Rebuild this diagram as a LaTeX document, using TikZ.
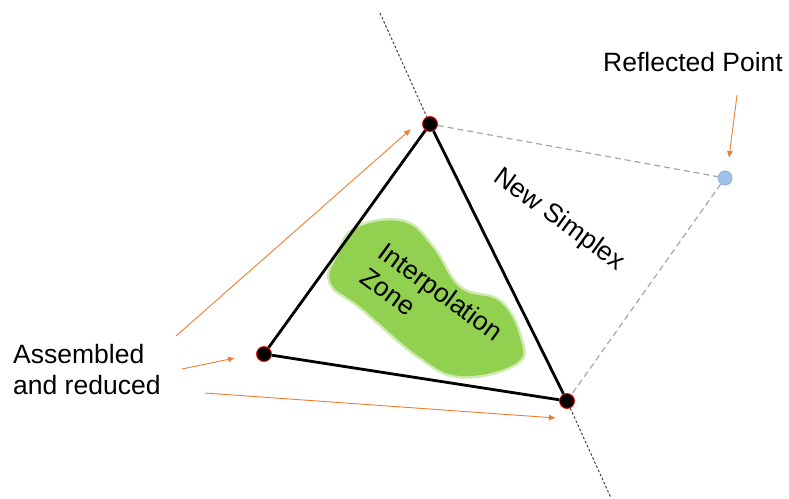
\documentclass[tikz,border=0pt]{standalone}
\usepackage{fontspec}
\setmainfont{Liberation Sans}
\usetikzlibrary{arrows.meta,positioning}
\definecolor{accentorange}{HTML}{ED7D31}
\definecolor{zonegreen}{HTML}{92D050}
\definecolor{pointblue}{HTML}{9DC3E6}
\definecolor{pointedge}{HTML}{8FAADC}
\definecolor{ridgegray}{HTML}{404040}
\definecolor{facetgray}{HTML}{A6A6A6}

\begin{document}
\begin{tikzpicture}[
        x=1pt,y=-1pt,
        vtx/.style={circle,draw=red,fill=black,line width=.8pt,
                    minimum size=15pt,inner sep=0pt},
        refl/.style={circle,draw=pointedge,fill=pointblue,line width=.8pt,
                     minimum size=14pt,inner sep=0pt},
        lbl/.style={font=\fontsize{26.5}{31}\selectfont,inner sep=0pt},
        edge/.style={line width=2.8pt,black},
        ridge/.style={ridgegray,line width=1pt,dash pattern=on 2.5pt off 2pt},
        facet/.style={facetgray,line width=1.2pt,dash pattern=on 6pt off 4pt},
        arr/.style={-{Latex[length=7pt,width=6pt]},accentorange,line width=.9pt}
      ]
        \useasboundingbox (0,0) rectangle (789,498);
        % interpolation zone
        \fill[zonegreen,draw=zonegreen,draw opacity=.45,line width=5pt]
          plot[smooth cycle,tension=.7] coordinates {(357,228) (403,222) (432,247)
            (460,288) (500,302) (520,338) (516,363) (462,376) (420,357)
            (362,308) (331,283) (338,255)};
        % simplex vertices
        \node[vtx] (top) at (430,124) {};
        \node[vtx] (left) at (264,354) {};
        \node[vtx] (bot) at (567,401) {};
        \node[refl] (refl) at (725,178) {};
        \coordinate (ridgetop) at (380,13);
        \coordinate (ridgebot) at (611,498);
        \draw[ridge] (ridgetop) -- (top);
        \draw[ridge] (bot) -- (ridgebot);
        \draw[facet] (top) -- (refl);
        \draw[facet] (refl) -- (bot);
        \draw[edge] (top) -- (left);
        \draw[edge] (left) -- (bot);
        \draw[edge] (bot) -- (top);
        % labels
        \node[lbl,anchor=west,align=left] (asm) at (13,370) {Assembled\\and reduced};
        \node[lbl] (rpt) at (693,62) {Reflected Point};
        \node[lbl,rotate=-36] (simplex) at (559,220) {New Simplex};
        \node[lbl,rotate=-36,align=left] (zone) at (432,304) {Interpolation\\Zone};
        % arrows
        \coordinate (a1) at (176,336);
        \coordinate (a1tip) at (411,129);
        \coordinate (a2) at (182,369);
        \coordinate (a2tip) at (235,358);
        \coordinate (a3) at (205,393);
        \coordinate (a3tip) at (556,418);
        \coordinate (a4) at (737,95);
        \coordinate (a4tip) at (729,158);
        \draw[arr] (a1) -- (a1tip);
        \draw[arr] (a2) -- (a2tip);
        \draw[arr] (a3) -- (a3tip);
        \draw[arr] (a4) -- (a4tip);
      \end{tikzpicture}
\end{document}
